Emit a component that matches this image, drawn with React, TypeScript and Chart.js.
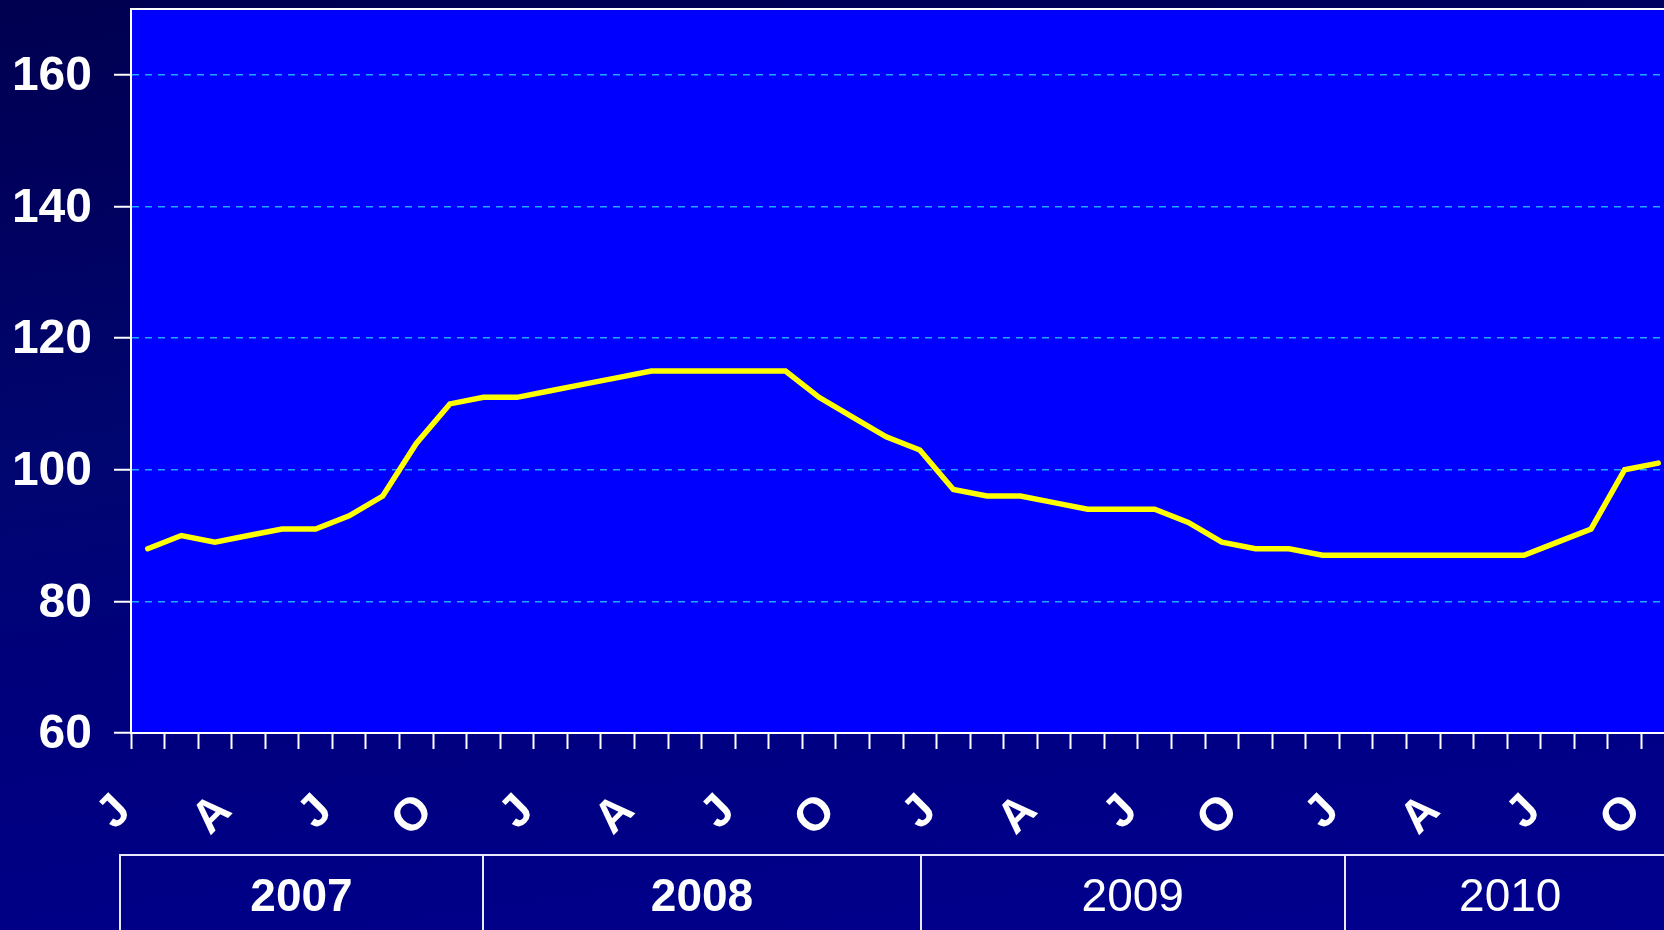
import React, { useEffect, useRef } from 'react';
import { Chart, registerables } from 'chart.js';

Chart.register(...registerables);

// ---- data ----
const monthNames = ['Jan', 'Feb', 'Mar', 'Apr', 'May', 'Jun', 'Jul', 'Aug', 'Sep', 'Oct', 'Nov', 'Dec'];
const years = ['2007', '2008', '2009', '2010'];
const monthCount = 46; // Jan 2007 .. Oct 2010
const categories: string[] = [];
for (let i = 0; i < monthCount; i++) {
  categories.push(monthNames[i % 12] + ' ' + years[Math.floor(i / 12)]);
}
const quarterLetters = ['J', 'A', 'J', 'O'];
const indexValues = [
  88, 90, 89, 90, 91, 91, 93, 96, 104, 110,
  111, 111, 112, 113, 114, 115, 115, 115, 115, 115,
  111, 108, 105, 103, 97, 96, 96, 95, 94, 94,
  94, 92, 89, 88, 88, 87, 87, 87, 87, 87,
  87, 87, 89, 91, 100, 101,
];
const yTicks = [60, 80, 100, 120, 140, 160];
const yearBold = [true, true, false, false];

// ---- layout (page pixels) ----
const yearEdges = [120, 483, 921, 1344.5, 1676];

const FONT = '"Liberation Sans", Arial, Helvetica, sans-serif';

export default function App() {
  const ref = useRef<HTMLCanvasElement | null>(null);

  useEffect(() => {
    const canvas = ref.current;
    if (!canvas) return;

    const plotPlugin = {
      id: 'plotBackground',
      beforeDraw(chart: any) {
        const { ctx, chartArea: a } = chart;
        ctx.save();
        ctx.fillStyle = '#0000FF';
        ctx.fillRect(a.left, a.top, a.right - a.left, a.bottom - a.top);
        ctx.restore();
      },
      beforeDatasetsDraw(chart: any) {
        const { ctx, chartArea: a } = chart;
        ctx.save();
        ctx.strokeStyle = '#FFFFFF';
        ctx.lineWidth = 2;
        ctx.beginPath();
        ctx.moveTo(a.left - 1, a.top);
        ctx.lineTo(a.right, a.top);
        ctx.stroke();
        ctx.restore();
      },
    };

    const chart = new Chart(canvas, {
      type: 'line',
      data: {
        labels: categories,
        datasets: [
          {
            data: indexValues,
            borderColor: '#FFFF00',
            borderWidth: 5.5,
            pointRadius: 0,
            pointHoverRadius: 0,
            tension: 0,
            fill: false,
            borderCapStyle: 'round',
            borderJoinStyle: 'miter',
          },
        ],
      },
      options: {
        responsive: false,
        animation: false,
        devicePixelRatio: 1,
        layout: { padding: { top: 9, right: 5, left: 0, bottom: 0 } },
        plugins: {
          legend: { display: false },
          tooltip: { enabled: false },
          title: { display: false },
        },
        scales: {
          x: {
            type: 'category',
            offset: true,
            grid: {
              display: true,
              offset: true,
              drawOnChartArea: false,
              drawTicks: true,
              tickLength: 16,
              tickColor: '#FFFFFF',
              tickWidth: 2,
            },
            border: { display: true, color: '#FFFFFF', width: 2 },
            ticks: {
              autoSkip: false,
              maxRotation: 45,
              minRotation: 45,
              labelOffset: -24,
              padding: 35,
              color: '#FFFFFF',
              font: { family: FONT, size: 46, weight: 'bold' },
              callback: (_v: any, i: number) => (i % 3 === 0 ? quarterLetters[(i / 3) % 4] : ''),
            },
            afterFit: (s: any) => {
              s.height = 127;
              s.paddingLeft = 0;
              s.paddingRight = 0;
            },
          },
          y: {
            min: 60,
            max: 170,
            afterBuildTicks: (s: any) => {
              s.ticks = yTicks.map((v) => ({ value: v }));
            },
            grid: {
              color: (c: any) => (c.tick && c.tick.value === 60 ? 'rgba(0,0,0,0)' : '#1EA8FF'),
              lineWidth: 1.5,
              drawTicks: true,
              tickLength: 17,
              tickColor: '#FFFFFF',
              tickWidth: 2,
              tickBorderDash: [],
            },
            border: { display: true, color: '#FFFFFF', width: 2, dash: [7, 6] },
            ticks: {
              padding: 22,
              labelOffset: 2,
              color: '#FFFFFF',
              font: { family: FONT, size: 48, weight: 'bold' },
            },
            afterFit: (s: any) => {
              s.width = 131;
              s.paddingTop = 0;
              s.paddingBottom = 0;
            },
          },
        },
      },
      plugins: [plotPlugin],
    } as any);

    return () => chart.destroy();
  }, []);

  return (
    <div
      style={{
        position: 'fixed',
        left: 0,
        top: 0,
        width: 1664,
        height: 930,
        overflow: 'hidden',
        background:
          'linear-gradient(172deg, #000050 0%, #00005e 18%, #000670 40%, #00007c 60%, #000086 80%, #00008e 100%)',
      }}
    >
      <canvas
        ref={ref}
        width={1680}
        height={860}
        style={{ position: 'absolute', left: 0, top: 0, width: 1680, height: 860 }}
      />
      {years.map((y, i) => (
        <div
          key={y}
          style={{
            position: 'absolute',
            left: yearEdges[i] - 1,
            top: 854,
            width: yearEdges[i + 1] - yearEdges[i],
            height: 80,
            borderLeft: '2px solid #E8E8FF',
            borderTop: '2px solid #E8E8FF',
            boxSizing: 'border-box',
          }}
        >
          <div
            style={{
              position: 'absolute',
              left: 0,
              right: 0,
              top: 16,
              lineHeight: '46px',
              fontSize: 46,
              fontFamily: FONT,
              fontWeight: yearBold[i] ? 'bold' : 'normal',
              color: '#FFFFFF',
              textAlign: 'center',
            }}
          >
            {y}
          </div>
        </div>
      ))}
    </div>
  );
}
